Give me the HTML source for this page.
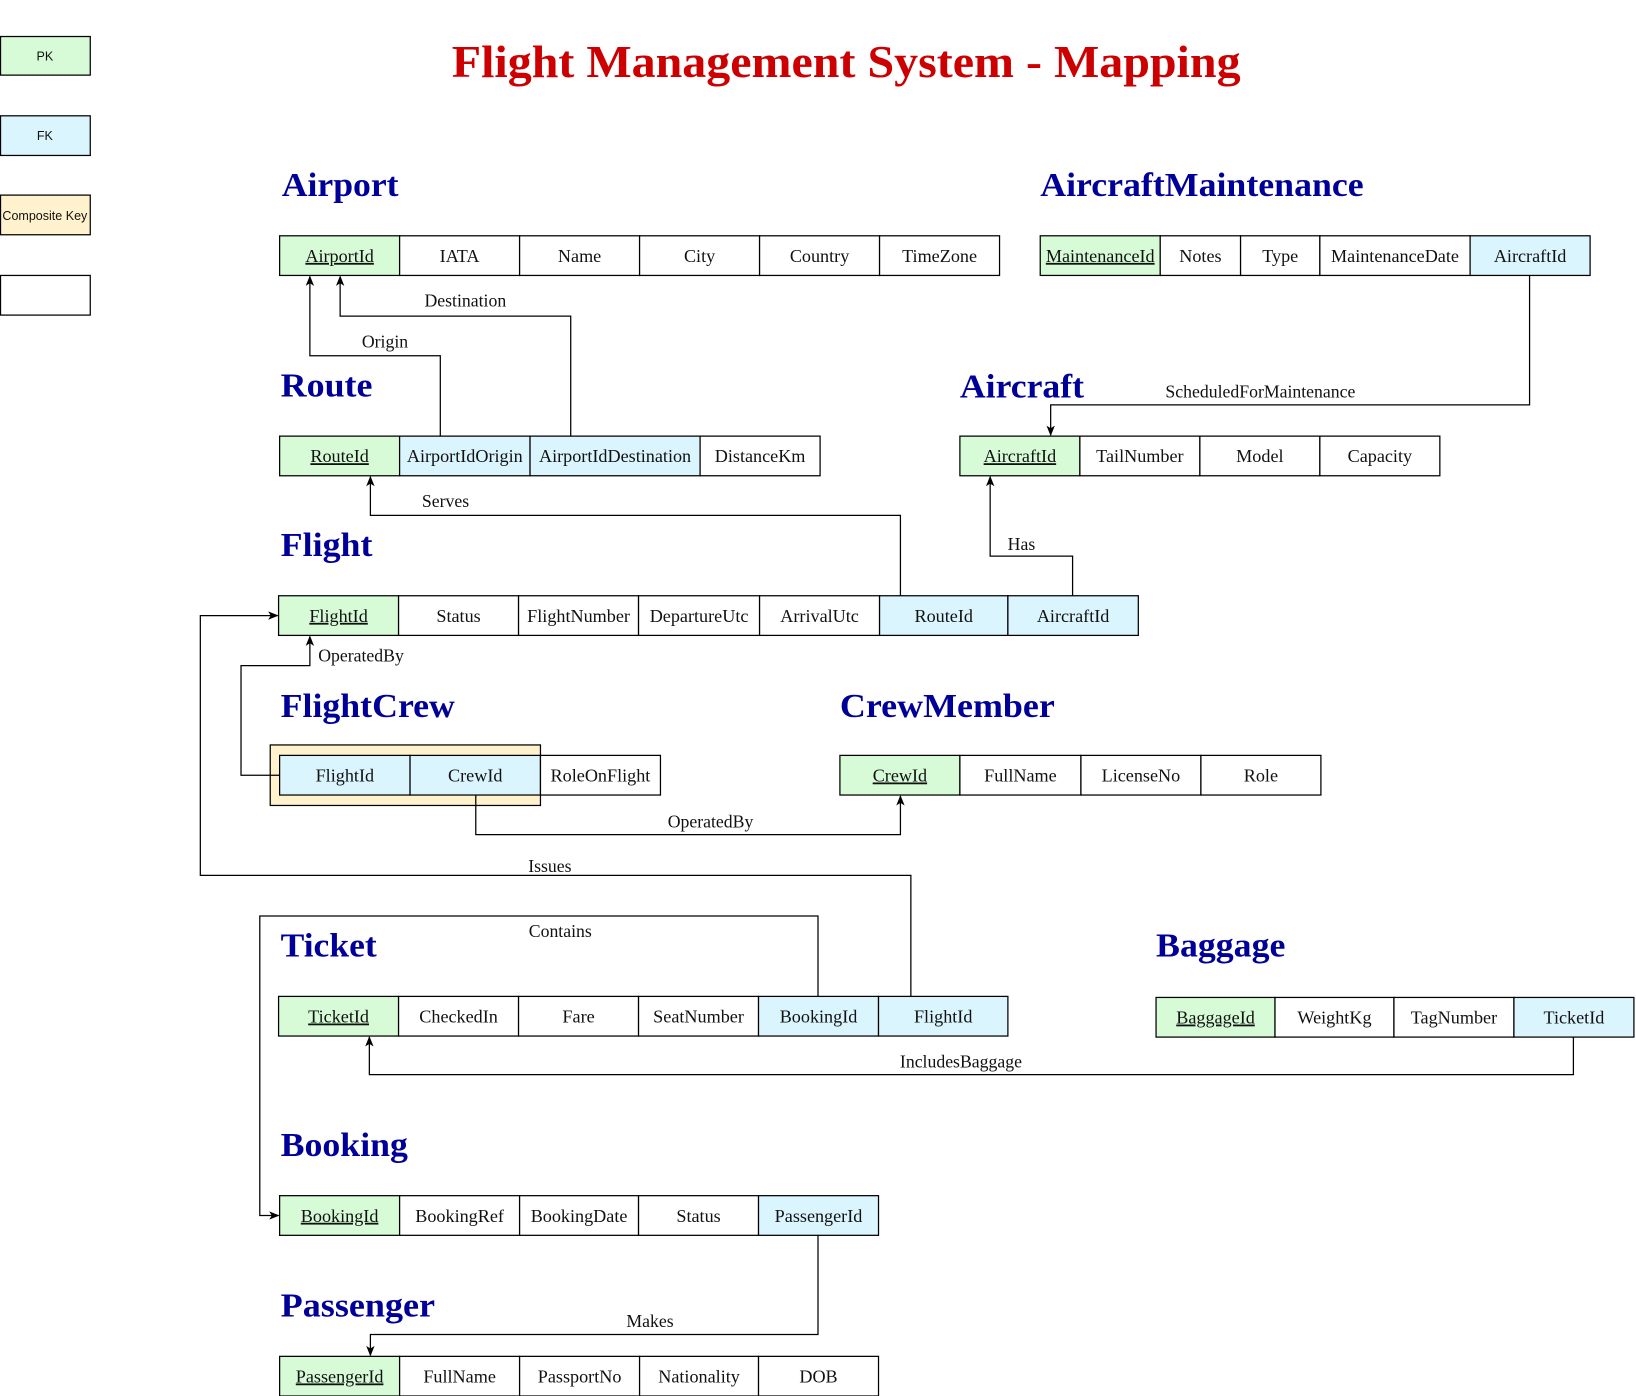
<!DOCTYPE html>
<html><head><meta charset="utf-8"><style>
html,body{margin:0;padding:0;background:#fff;}
svg{display:block;}
.t{font-family:"Liberation Serif",serif;font-weight:bold;fill:#000099;font-size:32px;}
.c{font-family:"Liberation Serif",serif;font-size:17.4px;fill:#111;text-anchor:middle;}
.l{font-family:"Liberation Serif",serif;font-size:17px;fill:#111;text-anchor:middle;}
.lg{font-family:"Liberation Sans",sans-serif;font-size:12px;fill:#111;text-anchor:middle;}
.w{fill:none;stroke:#000;stroke-width:1.2;}
</style></head><body>
<svg width="1636" height="1396" viewBox="0 0 1568 1338" preserveAspectRatio="none" xmlns="http://www.w3.org/2000/svg">
<defs><marker id="a" markerWidth="10" markerHeight="10" refX="9" refY="5" orient="auto" markerUnits="userSpaceOnUse"><path d="M0,1 L10,5 L0,9 L2.5,5 Z" fill="#000"/></marker></defs>
<rect width="1568" height="1338" fill="#fff"/>
<rect x="0.5" y="35" width="86" height="37" fill="#d6fbd6" stroke="#000" stroke-width="1.2"/><text class="lg" x="43" y="58">PK</text>
<rect x="0.5" y="111" width="86" height="38" fill="#dbf5ff" stroke="#000" stroke-width="1.2"/><text class="lg" x="43" y="134">FK</text>
<rect x="0.5" y="187" width="86" height="38" fill="#fff2cc" stroke="#000" stroke-width="1.2"/><text class="lg" x="43" y="211">Composite Key</text>
<rect x="0.5" y="264" width="86" height="38" fill="#fff" stroke="#000" stroke-width="1.2"/>
<text x="433" y="74" textLength="756" lengthAdjust="spacingAndGlyphs" style="font-family:'Liberation Serif',serif;font-weight:bold;font-size:44px;fill:#cc0000">Flight Management System - Mapping</text>
<text class="t" x="270" y="188" textLength="112" lengthAdjust="spacingAndGlyphs">Airport</text>
<text class="t" x="997" y="188" textLength="310" lengthAdjust="spacingAndGlyphs">AircraftMaintenance</text>
<text class="t" x="269" y="380" textLength="88" lengthAdjust="spacingAndGlyphs">Route</text>
<text class="t" x="920" y="381" textLength="119" lengthAdjust="spacingAndGlyphs">Aircraft</text>
<text class="t" x="269" y="533" textLength="88" lengthAdjust="spacingAndGlyphs">Flight</text>
<text class="t" x="269" y="687" textLength="167" lengthAdjust="spacingAndGlyphs">FlightCrew</text>
<text class="t" x="805" y="687" textLength="206" lengthAdjust="spacingAndGlyphs">CrewMember</text>
<text class="t" x="269" y="917" textLength="92" lengthAdjust="spacingAndGlyphs">Ticket</text>
<text class="t" x="1108" y="917" textLength="124" lengthAdjust="spacingAndGlyphs">Baggage</text>
<text class="t" x="269" y="1108" textLength="122" lengthAdjust="spacingAndGlyphs">Booking</text>
<text class="t" x="269" y="1262" textLength="148" lengthAdjust="spacingAndGlyphs">Passenger</text>
<rect x="259" y="714" width="259" height="58" fill="#fff2cc" stroke="#000" stroke-width="1.2"/>
<polyline class="w" points="422,418 422,341 297,341 297,265" marker-end="url(#a)"/>
<polyline class="w" points="547,418 547,303 326,303 326,265" marker-end="url(#a)"/>
<polyline class="w" points="1466,264 1466,388 1007,388 1007,417" marker-end="url(#a)"/>
<polyline class="w" points="863,571 863,494 355,494 355,457" marker-end="url(#a)"/>
<polyline class="w" points="1028,571 1028,533 949,533 949,457" marker-end="url(#a)"/>
<polyline class="w" points="268,743 231,743 231,638 297,638 297,610" marker-end="url(#a)"/>
<polyline class="w" points="456,762 456,800 863,800 863,763" marker-end="url(#a)"/>
<polyline class="w" points="873,955 873,839 192,839 192,590 266,590" marker-end="url(#a)"/>
<polyline class="w" points="784,955 784,878 249,878 249,1165 267,1165" marker-end="url(#a)"/>
<polyline class="w" points="1508,994 1508,1030 354,1030 354,994" marker-end="url(#a)"/>
<polyline class="w" points="784,1184 784,1279 355,1279 355,1299" marker-end="url(#a)"/>
<text class="l" x="446" y="294">Destination</text>
<text class="l" x="369" y="333">Origin</text>
<text class="l" x="1208" y="381">ScheduledForMaintenance</text>
<text class="l" x="427" y="486">Serves</text>
<text class="l" x="979" y="527">Has</text>
<text class="l" x="346" y="634">OperatedBy</text>
<text class="l" x="681" y="793">OperatedBy</text>
<text class="l" x="527" y="836">Issues</text>
<text class="l" x="537" y="898">Contains</text>
<text class="l" x="921" y="1023">IncludesBaggage</text>
<text class="l" x="623" y="1272">Makes</text>

<g>
<rect x="268" y="226" width="115" height="38" fill="#d6fbd6" stroke="#000" stroke-width="1.2"/><text class="c" x="325.5" y="251" text-decoration="underline">AirportId</text>
<rect x="383" y="226" width="115" height="38" fill="#fff" stroke="#000" stroke-width="1.2"/><text class="c" x="440.5" y="251">IATA</text>
<rect x="498" y="226" width="115" height="38" fill="#fff" stroke="#000" stroke-width="1.2"/><text class="c" x="555.5" y="251">Name</text>
<rect x="613" y="226" width="115" height="38" fill="#fff" stroke="#000" stroke-width="1.2"/><text class="c" x="670.5" y="251">City</text>
<rect x="728" y="226" width="115" height="38" fill="#fff" stroke="#000" stroke-width="1.2"/><text class="c" x="785.5" y="251">Country</text>
<rect x="843" y="226" width="115" height="38" fill="#fff" stroke="#000" stroke-width="1.2"/><text class="c" x="900.5" y="251">TimeZone</text>
</g>
<g>
<rect x="997" y="226" width="115" height="38" fill="#d6fbd6" stroke="#000" stroke-width="1.2"/><text class="c" x="1054.5" y="251" text-decoration="underline">MaintenanceId</text>
<rect x="1112" y="226" width="77" height="38" fill="#fff" stroke="#000" stroke-width="1.2"/><text class="c" x="1150.5" y="251">Notes</text>
<rect x="1189" y="226" width="76" height="38" fill="#fff" stroke="#000" stroke-width="1.2"/><text class="c" x="1227" y="251">Type</text>
<rect x="1265" y="226" width="144" height="38" fill="#fff" stroke="#000" stroke-width="1.2"/><text class="c" x="1337" y="251">MaintenanceDate</text>
<rect x="1409" y="226" width="115" height="38" fill="#dbf5ff" stroke="#000" stroke-width="1.2"/><text class="c" x="1466.5" y="251">AircraftId</text>
</g>
<g>
<rect x="268" y="418" width="115" height="38" fill="#d6fbd6" stroke="#000" stroke-width="1.2"/><text class="c" x="325.5" y="443" text-decoration="underline">RouteId</text>
<rect x="383" y="418" width="125" height="38" fill="#dbf5ff" stroke="#000" stroke-width="1.2"/><text class="c" x="445.5" y="443">AirportIdOrigin</text>
<rect x="508" y="418" width="163" height="38" fill="#dbf5ff" stroke="#000" stroke-width="1.2"/><text class="c" x="589.5" y="443">AirportIdDestination</text>
<rect x="671" y="418" width="115" height="38" fill="#fff" stroke="#000" stroke-width="1.2"/><text class="c" x="728.5" y="443">DistanceKm</text>
</g>
<g>
<rect x="920" y="418" width="115" height="38" fill="#d6fbd6" stroke="#000" stroke-width="1.2"/><text class="c" x="977.5" y="443" text-decoration="underline">AircraftId</text>
<rect x="1035" y="418" width="115" height="38" fill="#fff" stroke="#000" stroke-width="1.2"/><text class="c" x="1092.5" y="443">TailNumber</text>
<rect x="1150" y="418" width="115" height="38" fill="#fff" stroke="#000" stroke-width="1.2"/><text class="c" x="1207.5" y="443">Model</text>
<rect x="1265" y="418" width="115" height="38" fill="#fff" stroke="#000" stroke-width="1.2"/><text class="c" x="1322.5" y="443">Capacity</text>
</g>
<g>
<rect x="267" y="571" width="115" height="38" fill="#d6fbd6" stroke="#000" stroke-width="1.2"/><text class="c" x="324.5" y="596" text-decoration="underline">FlightId</text>
<rect x="382" y="571" width="115" height="38" fill="#fff" stroke="#000" stroke-width="1.2"/><text class="c" x="439.5" y="596">Status</text>
<rect x="497" y="571" width="115" height="38" fill="#fff" stroke="#000" stroke-width="1.2"/><text class="c" x="554.5" y="596">FlightNumber</text>
<rect x="612" y="571" width="116" height="38" fill="#fff" stroke="#000" stroke-width="1.2"/><text class="c" x="670" y="596">DepartureUtc</text>
<rect x="728" y="571" width="115" height="38" fill="#fff" stroke="#000" stroke-width="1.2"/><text class="c" x="785.5" y="596">ArrivalUtc</text>
<rect x="843" y="571" width="123" height="38" fill="#dbf5ff" stroke="#000" stroke-width="1.2"/><text class="c" x="904.5" y="596">RouteId</text>
<rect x="966" y="571" width="125" height="38" fill="#dbf5ff" stroke="#000" stroke-width="1.2"/><text class="c" x="1028.5" y="596">AircraftId</text>
</g>
<g>
<rect x="268" y="724" width="125" height="38" fill="#dbf5ff" stroke="#000" stroke-width="1.2"/><text class="c" x="330.5" y="749">FlightId</text>
<rect x="393" y="724" width="125" height="38" fill="#dbf5ff" stroke="#000" stroke-width="1.2"/><text class="c" x="455.5" y="749">CrewId</text>
<rect x="518" y="724" width="115" height="38" fill="#fff" stroke="#000" stroke-width="1.2"/><text class="c" x="575.5" y="749">RoleOnFlight</text>
</g>
<g>
<rect x="805" y="724" width="115" height="38" fill="#d6fbd6" stroke="#000" stroke-width="1.2"/><text class="c" x="862.5" y="749" text-decoration="underline">CrewId</text>
<rect x="920" y="724" width="116" height="38" fill="#fff" stroke="#000" stroke-width="1.2"/><text class="c" x="978" y="749">FullName</text>
<rect x="1036" y="724" width="115" height="38" fill="#fff" stroke="#000" stroke-width="1.2"/><text class="c" x="1093.5" y="749">LicenseNo</text>
<rect x="1151" y="724" width="115" height="38" fill="#fff" stroke="#000" stroke-width="1.2"/><text class="c" x="1208.5" y="749">Role</text>
</g>
<g>
<rect x="267" y="955" width="115" height="38" fill="#d6fbd6" stroke="#000" stroke-width="1.2"/><text class="c" x="324.5" y="980" text-decoration="underline">TicketId</text>
<rect x="382" y="955" width="115" height="38" fill="#fff" stroke="#000" stroke-width="1.2"/><text class="c" x="439.5" y="980">CheckedIn</text>
<rect x="497" y="955" width="115" height="38" fill="#fff" stroke="#000" stroke-width="1.2"/><text class="c" x="554.5" y="980">Fare</text>
<rect x="612" y="955" width="115" height="38" fill="#fff" stroke="#000" stroke-width="1.2"/><text class="c" x="669.5" y="980">SeatNumber</text>
<rect x="727" y="955" width="115" height="38" fill="#dbf5ff" stroke="#000" stroke-width="1.2"/><text class="c" x="784.5" y="980">BookingId</text>
<rect x="842" y="955" width="124" height="38" fill="#dbf5ff" stroke="#000" stroke-width="1.2"/><text class="c" x="904" y="980">FlightId</text>
</g>
<g>
<rect x="1108" y="956" width="114" height="38" fill="#d6fbd6" stroke="#000" stroke-width="1.2"/><text class="c" x="1165" y="981" text-decoration="underline">BaggageId</text>
<rect x="1222" y="956" width="114" height="38" fill="#fff" stroke="#000" stroke-width="1.2"/><text class="c" x="1279" y="981">WeightKg</text>
<rect x="1336" y="956" width="115" height="38" fill="#fff" stroke="#000" stroke-width="1.2"/><text class="c" x="1393.5" y="981">TagNumber</text>
<rect x="1451" y="956" width="115" height="38" fill="#dbf5ff" stroke="#000" stroke-width="1.2"/><text class="c" x="1508.5" y="981">TicketId</text>
</g>
<g>
<rect x="268" y="1146" width="115" height="38" fill="#d6fbd6" stroke="#000" stroke-width="1.2"/><text class="c" x="325.5" y="1171" text-decoration="underline">BookingId</text>
<rect x="383" y="1146" width="115" height="38" fill="#fff" stroke="#000" stroke-width="1.2"/><text class="c" x="440.5" y="1171">BookingRef</text>
<rect x="498" y="1146" width="114" height="38" fill="#fff" stroke="#000" stroke-width="1.2"/><text class="c" x="555" y="1171">BookingDate</text>
<rect x="612" y="1146" width="115" height="38" fill="#fff" stroke="#000" stroke-width="1.2"/><text class="c" x="669.5" y="1171">Status</text>
<rect x="727" y="1146" width="115" height="38" fill="#dbf5ff" stroke="#000" stroke-width="1.2"/><text class="c" x="784.5" y="1171">PassengerId</text>
</g>
<g>
<rect x="268" y="1300" width="115" height="38" fill="#d6fbd6" stroke="#000" stroke-width="1.2"/><text class="c" x="325.5" y="1325" text-decoration="underline">PassengerId</text>
<rect x="383" y="1300" width="115" height="38" fill="#fff" stroke="#000" stroke-width="1.2"/><text class="c" x="440.5" y="1325">FullName</text>
<rect x="498" y="1300" width="115" height="38" fill="#fff" stroke="#000" stroke-width="1.2"/><text class="c" x="555.5" y="1325">PassportNo</text>
<rect x="613" y="1300" width="114" height="38" fill="#fff" stroke="#000" stroke-width="1.2"/><text class="c" x="670" y="1325">Nationality</text>
<rect x="727" y="1300" width="115" height="38" fill="#fff" stroke="#000" stroke-width="1.2"/><text class="c" x="784.5" y="1325">DOB</text>
</g>
</svg>
</body></html>
